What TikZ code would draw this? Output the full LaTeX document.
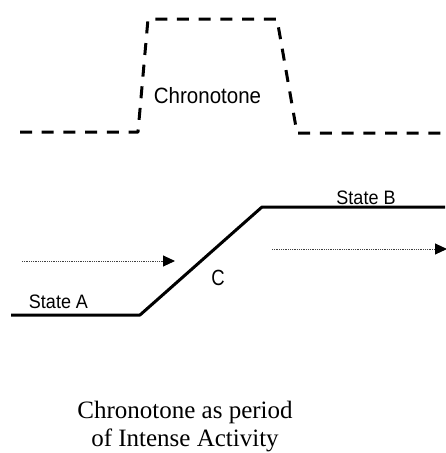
\documentclass[tikz,border=0pt]{standalone}
\usepackage{fontspec}
\setmainfont{Liberation Serif}
\setsansfont{Liberation Sans}
\usetikzlibrary{arrows.meta}
\begin{document}
\begin{tikzpicture}[x=1pt,y=-1pt,
  boundary/.style={line width=3pt, dash pattern=on 12pt off 9.7pt, line join=round},
  statepath/.style={line width=3pt, line join=round},
  flow/.style={line width=1pt, black!75, dash pattern=on 1pt off 0.8pt,
    -{Triangle[length=12pt,width=11pt,fill=black,color=black]}},
  lbl/.style={font=\sffamily\fontsize{18}{20}\selectfont, inner sep=0pt, anchor=base, yscale=1.08},
  bigsans/.style={font=\sffamily\fontsize{20.5}{23}\selectfont, inner sep=0pt, anchor=base, yscale=1.08},
  capline/.style={font=\fontsize{25}{28}\selectfont, inner sep=0pt, anchor=base}]
\useasboundingbox (0,0) rectangle (445,453);

% chronotone boundary (dashed)
\coordinate (d0) at (20,132);
\coordinate (d1) at (138,132);
\coordinate (d2) at (148,19);
\coordinate (d3) at (277,19);
\coordinate (d4) at (297,133);
\coordinate (d5) at (445,133);
\draw[boundary] (d0) -- (d1) -- (d2) -- (d3) -- (d4) -- (d5);
\node[bigsans] (chrono) at (207.5,103) {Chronotone};

% transition from state A to state B
\coordinate (s0) at (11,315);
\coordinate (s1) at (140,315);
\coordinate (s2) at (262,207);
\coordinate (s3) at (445,207);
\draw[statepath] (s0) -- (s1) -- (s2) -- (s3);
\node[lbl] (stateA) at (58.5,308) {State A};
\node[lbl] (stateB) at (366,204) {State B};
\node[lbl, font=\sffamily\fontsize{18.5}{20}\selectfont, yscale=1.1] (cLbl) at (218,285) {C};

% flow arrows
\coordinate (f0) at (22,261);
\coordinate (f1) at (175,261);
\coordinate (g0) at (272,249);
\coordinate (g1) at (447,249);
\draw[flow] (f0) -- (f1);
\draw[flow] (g0) -- (g1);

% caption
\node[capline] (cap1) at (185,418) {Chronotone as period};
\node[capline] (cap2) at (185,446) {of Intense Activity};
\end{tikzpicture}
\end{document}
